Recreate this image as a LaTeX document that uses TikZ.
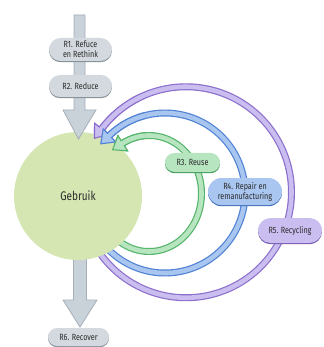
\documentclass[tikz,border=0pt]{standalone}
\usepackage{fontspec}
\setmainfont{Fira Sans}[FakeStretch=0.8]
\usetikzlibrary{calc,shapes.misc,shadows}

\definecolor{arrowfill}{HTML}{CAD2D9}
\definecolor{arrowedge}{HTML}{A3AEB8}
\definecolor{boxgray}{HTML}{D3D9DE}
\definecolor{boxgrayedge}{HTML}{87929B}
\definecolor{usefill}{HTML}{D5E6B3}
\definecolor{greendark}{HTML}{55B56B}
\definecolor{greenlight}{HTML}{B7E5C0}
\definecolor{greenedge}{HTML}{3E9A55}
\definecolor{bluedark}{HTML}{4F82D4}
\definecolor{bluelight}{HTML}{A9C6F0}
\definecolor{blueedge}{HTML}{3F6DB8}
\definecolor{purpledark}{HTML}{8C6FCC}
\definecolor{purplelight}{HTML}{CABDF0}
\definecolor{purpleedge}{HTML}{7258B0}
\definecolor{inktext}{HTML}{2A2A2A}

\tikzset{
  labelbox/.style={rounded rectangle, inner sep=0pt, align=center, text=inktext,
    font=\fontsize{9}{10}\selectfont, fill=#1},
  shadowed/.style={drop shadow={shadow xshift=0pt, shadow yshift=-1.2pt, opacity=1, fill=#1}},
  grayarrow/.style={fill=arrowfill, draw=arrowedge, line width=0.8pt, line join=miter},
}

% one loop arrow along an ellipse: dark rim, open head, light core
% #1 rim colour, #2 core colour, #3 #4 centre, #5 #6 radii, #7 start angle, #8 end angle
\newcommand\loopring[8]{%
  \pgfmathsetmacro\headdir{atan2(-#6*cos(#8), #5*sin(#8))}%
  \coordinate (hb) at ({#3+#5*cos(#8)},{#4+#6*sin(#8)});
  \draw[#1, line width=7pt] plot[domain=0:1, samples=160, variable=\t]
    ({#3+#5*cos(#7+(#8-#7)*\t)},{#4+#6*sin(#7+(#8-#7)*\t)});
  \filldraw[fill=#2, draw=#1, line width=1.1pt, line join=miter]
    ($(hb)+(\headdir+90:9)$) -- ($(hb)+(\headdir:12)$) -- ($(hb)+(\headdir-90:9)$) -- cycle;
  \draw[#2, line width=4.6pt, line cap=rect] plot[domain=0:1, samples=160, variable=\t]
    ({#3+#5*cos(#7+(#8-#7)*\t)},{#4+#6*sin(#7+(#8-#7)*\t)});
}

\newcommand\allloops{%
  \loopring{purpledark}{purplelight}{186}{192.25}{105.5}{105.5}{150}{-143}
  \loopring{bluedark}{bluelight}{165}{193}{80}{80}{140}{-134}
  \loopring{greendark}{greenlight}{149}{193.5}{52.5}{58}{128}{-120}
}

\begin{document}
\begin{tikzpicture}[x=1pt, y=-1pt]
  \useasboundingbox (0,0) rectangle (323,347);

  % outgoing arrow below the circle
  \coordinate (outTail) at (80,250);
  \coordinate (outNeck) at (80,300);
  \coordinate (outTip) at (80,327);
  \draw[grayarrow] ($(outTail)+(-6.5,0)$) -- ($(outNeck)+(-6.5,0)$) -- ($(outNeck)+(-17,0)$)
    -- (outTip) -- ($(outNeck)+(17,0)$) -- ($(outNeck)+(6.5,0)$) -- ($(outTail)+(6.5,0)$) -- cycle;

  % loops
  \allloops

  % central circle
  \node[circle, fill=usefill, minimum size=128pt, inner sep=0pt, text=inktext,
        font=\fontsize{12.5}{14}\selectfont] (use) at (78,196) {Gebruik};

  % loop heads lie over the circle
  \begin{scope}
    \clip (86,95) rectangle (145,165);
    \allloops
  \end{scope}

  % incoming arrow from the top
  \coordinate (inTail) at (79.5,15);
  \coordinate (inNeck) at (79.5,110);
  \coordinate (inTip) at (78.5,139);
  \draw[grayarrow] ($(inTail)+(-5.5,0)$) -- ($(inNeck)+(-5.5,0)$) -- ($(inNeck)+(-16.5,0)$)
    -- (inTip) -- ($(inNeck)+(16.5,0)$) -- ($(inNeck)+(5.5,0)$) -- ($(inTail)+(5.5,0)$) -- cycle;

  % labels
  \node[labelbox=boxgray, shadowed=boxgrayedge, minimum width=63pt, minimum height=23pt] (r1) at (80.5,49.5) {R1. Refuce\\en Rethink};
  \node[labelbox=boxgray, shadowed=boxgrayedge, minimum width=63pt, minimum height=22pt] (r2) at (80.5,86) {R2. Reduce};
  \node[labelbox=greenlight, shadowed=greenedge, minimum width=55pt, minimum height=19pt] (r3) at (192.5,162.5) {R3. Reuse};
  \node[labelbox=bluelight, shadowed=blueedge, minimum width=74pt, minimum height=27pt] (r4) at (245,191.5) {R4. Repair en\\remanufacturing};
  \node[labelbox=purplelight, shadowed=purpleedge, minimum width=64pt, minimum height=25pt] (r5) at (290,230.5) {R5. Recycling};
  \node[labelbox=boxgray, shadowed=boxgrayedge, minimum width=61pt, minimum height=18pt] (r6) at (78.5,337) {R6. Recover};
\end{tikzpicture}
\end{document}
